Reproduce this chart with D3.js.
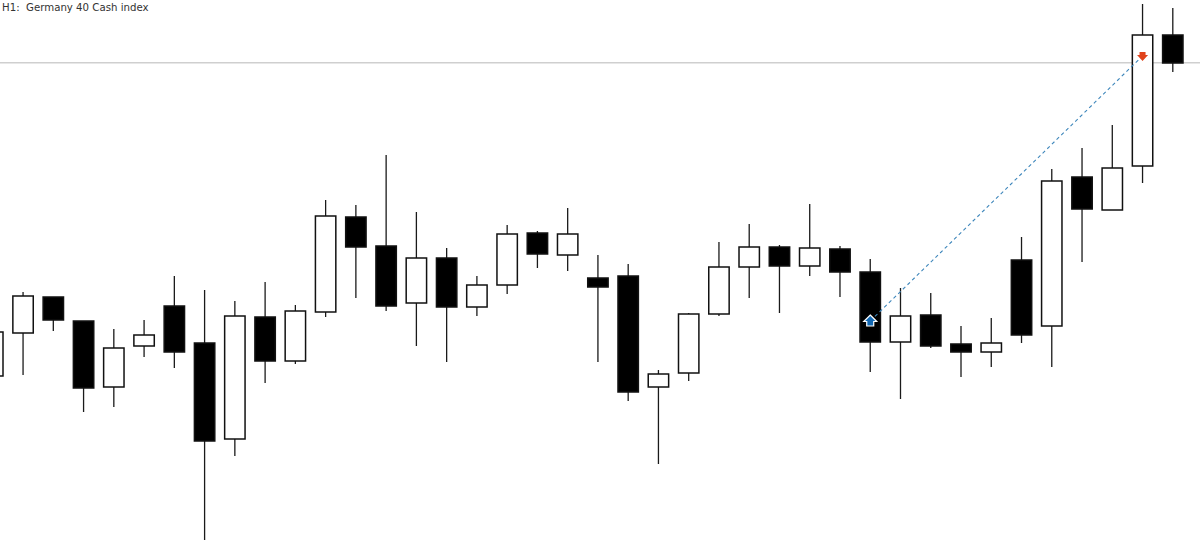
<!DOCTYPE html>
<html>
<head>
<meta charset="utf-8">
<script src="https://cdn.jsdelivr.net/npm/d3@7"></script>
<style>
  html, body { margin: 0; padding: 0; background: #fff; overflow: hidden; }
  svg { display: block; }
</style>
</head>
<body>
<div id="chart"></div>
<script>
const width = 1200;
const height = 540;

const title = "H1:  Germany 40 Cash index";

// values (there is no price axis, so points above the chart floor)
const opens  = [164, 207, 243, 219, 153, 194, 234, 197, 101, 223, 179, 228, 323, 294, 237, 282, 233, 255, 307, 285, 262, 264, 153, 167, 226, 273, 293, 274, 291, 268, 198, 225, 196, 188, 280, 214, 363, 330, 374, 505];
const closes = [208, 244, 220, 152, 192, 205, 188, 99, 224, 179, 229, 324, 293, 234, 282, 233, 255, 306, 286, 306, 253, 148, 166, 226, 273, 293, 274, 292, 268, 198, 224, 194, 188, 197, 205, 359, 331, 372, 505, 477];
const highs  = [212, 248, 243, 219, 211, 220, 264, 250, 239, 258, 235, 340, 335, 385, 328, 292, 264, 315, 309, 332, 285, 276, 170, 227, 298, 316, 295, 336, 294, 281, 252, 247, 214, 222, 303, 371, 392, 415, 536, 532];
const lows   = [160, 165, 209, 128, 133, 183, 172, 0, 84, 157, 176, 223, 242, 229, 194, 178, 224, 246, 272, 269, 178, 139, 76, 159, 224, 242, 227, 264, 243, 168, 141, 192, 163, 173, 197, 173, 278, 330, 357, 468];

// candle index 0 sits mostly off the left edge
const candleIndex = d3.range(opens.length);

const levelPrice = 478;
const entryCandle = 29;
const entryPrice = 219;
const exitCandle = 38;
const exitPrice = 484;

const svg = d3.select("#chart").append("svg")
    .attr("width", width)
    .attr("height", height);

const xScale = d3.scaleLinear().domain([0, 39]).range([-7.2, 1172.8]);
const yScale = d3.scaleLinear().domain([0, 540]).range([540, 0]);
const bodyWidth = 20.4;

// horizontal level
svg.append("line")
    .attr("x1", 0)
    .attr("x2", width)
    .attr("y1", yScale(levelPrice) + 0.7)
    .attr("y2", yScale(levelPrice) + 0.7)
    .attr("stroke", "#cfcfcf")
    .attr("stroke-width", 1.4);

// wicks
svg.append("g").selectAll("line")
    .data(candleIndex)
    .enter()
    .append("line")
    .attr("x1", i => xScale(i))
    .attr("x2", i => xScale(i))
    .attr("y1", i => yScale(highs[i]))
    .attr("y2", i => yScale(lows[i]))
    .attr("stroke", "#1a1a1a")
    .attr("stroke-width", 1.3);

// bodies
svg.append("g").selectAll("rect")
    .data(candleIndex)
    .enter()
    .append("rect")
    .attr("x", i => xScale(i) - bodyWidth / 2)
    .attr("y", i => yScale(Math.max(opens[i], closes[i])))
    .attr("width", bodyWidth)
    .attr("height", i => Math.abs(yScale(opens[i]) - yScale(closes[i])))
    .attr("fill", i => closes[i] < opens[i] ? "#000" : "#fff")
    .attr("stroke", "#111")
    .attr("stroke-width", 1.5);

// trade line, entry to exit
svg.append("line")
    .attr("x1", xScale(entryCandle))
    .attr("y1", yScale(entryPrice))
    .attr("x2", xScale(exitCandle))
    .attr("y2", yScale(exitPrice))
    .attr("stroke", "#3d86bb")
    .attr("stroke-width", 1.1)
    .attr("stroke-dasharray", "3.5,3");

// entry arrow
svg.append("path")
    .attr("transform", `translate(${xScale(entryCandle)},${yScale(entryPrice)})`)
    .attr("d", "M0,-6 L6.5,0.5 L3.5,0.5 L3.5,5 L-3.5,5 L-3.5,0.5 L-6.5,0.5 Z")
    .attr("fill", "#1268b3")
    .attr("stroke", "#fff")
    .attr("stroke-width", 1.2);

// exit arrow
svg.append("path")
    .attr("transform", `translate(${xScale(exitCandle)},${yScale(exitPrice)})`)
    .attr("d", "M-3,-4 L3,-4 L3,-1 L5.5,-1 L0,5 L-5.5,-1 L-3,-1 Z")
    .attr("fill", "#e0431c");

svg.append("text")
    .attr("x", 2)
    .attr("y", 11)
    .attr("font-family", "'DejaVu Sans', sans-serif")
    .attr("font-size", 10.2)
    .attr("fill", "#333")
    .attr("xml:space", "preserve")
    .style("white-space", "pre")
    .text(title);
</script>
</body>
</html>
